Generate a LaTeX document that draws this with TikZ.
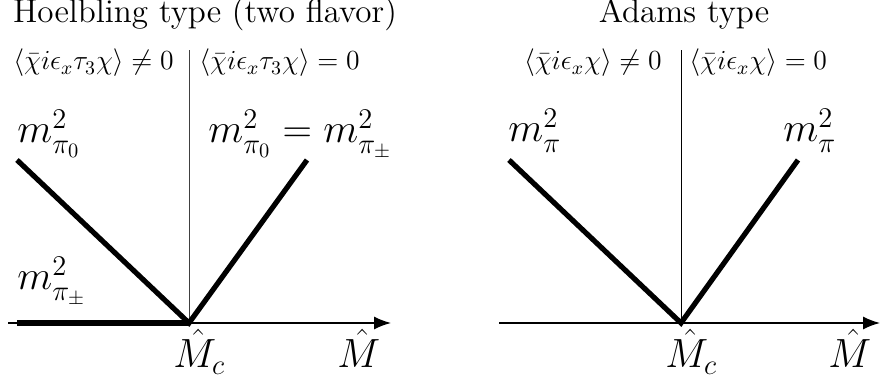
\RequirePackage{fix-cm}
\documentclass[tikz,border=0pt]{standalone}
\usepackage{amsmath}
\usepackage{graphicx}
\usepackage{tikz}
\usetikzlibrary{arrows.meta}
\newcommand{\paneltitle}[1]{\scalebox{1.15}{#1}}

\begin{document}
\begin{tikzpicture}[
  x=0.5pt, y=-0.5pt,
  axis/.style={-{Latex[length=8.5pt,width=6.5pt]}, line width=0.7pt},
  divider/.style={line width=0.5pt, draw=black!75},
  branch/.style={line width=2.6pt},
  label/.style={inner sep=0pt},
  title/.style={label, anchor=base, font=\fontsize{14.4}{17}\selectfont},
  cond/.style={label, font=\fontsize{13.8}{16}\selectfont},
  mass/.style={label, anchor=base west, font=\fontsize{20.4}{24}\selectfont}
]
\useasboundingbox (0,0) rectangle (880,383);

% Hoelbling type
\coordinate (hStart) at (8,323);
\coordinate (hEnd) at (391,323);
\coordinate (hKink) at (189,323);
\coordinate (hTop) at (189,50);
\coordinate (hLeft) at (17,160);
\coordinate (hRight) at (307,160);
\coordinate (hFlat) at (17,323);
\draw[axis] (hStart) -- (hEnd);
\draw[divider] (hKink) -- (hTop);
\draw[branch] (hLeft) -- (hKink) -- (hRight);
\draw[branch] (hFlat) -- (hKink);
\node[title] (hTitle) at (205,23) {\paneltitle{Hoelbling type (two flavor)}};
\node[cond, anchor=base east] (hBroken) at (174,70) {$\langle\bar\chi i\epsilon_x\tau_3\chi\rangle\neq0$};
\node[cond, anchor=base west] (hSym) at (199,70) {$\langle\bar\chi i\epsilon_x\tau_3\chi\rangle=0$};
\node[mass] (hNeutral) at (17,143) {$m^2_{\pi_0}$};
\node[mass] (hEqual) at (208,143) {$m^2_{\pi_0}=m^2_{\pi_\pm}$};
\node[mass] (hCharged) at (17,290) {$m^2_{\pi_\pm}$};
\node[mass] (hCrit) at (173,368) {$\hat{M}_c$};
\node[mass] (hMass) at (337,368) {$\hat{M}$};

% Adams type
\coordinate (aStart) at (499,323);
\coordinate (aEnd) at (880,323);
\coordinate (aKink) at (681,323);
\coordinate (aTop) at (681,50);
\coordinate (aLeft) at (509,160);
\coordinate (aRight) at (798,160);
\draw[axis] (aStart) -- (aEnd);
\draw[divider, draw=black] (aKink) -- (aTop);
\draw[branch] (aLeft) -- (aKink) -- (aRight);
\node[title] (aTitle) at (684,23) {\paneltitle{Adams type}};
\node[cond, anchor=base east] (aBroken) at (662,70) {$\langle\bar\chi i\epsilon_x\chi\rangle\neq0$};
\node[cond, anchor=base west] (aSym) at (689,70) {$\langle\bar\chi i\epsilon_x\chi\rangle=0$};
\node[mass] (aPionL) at (508,142) {$m^2_{\pi}$};
\node[mass] (aPionR) at (783,142) {$m^2_{\pi}$};
\node[mass] (aCrit) at (665,368) {$\hat{M}_c$};
\node[mass] (aMass) at (828,368) {$\hat{M}$};
\end{tikzpicture}
\end{document}
